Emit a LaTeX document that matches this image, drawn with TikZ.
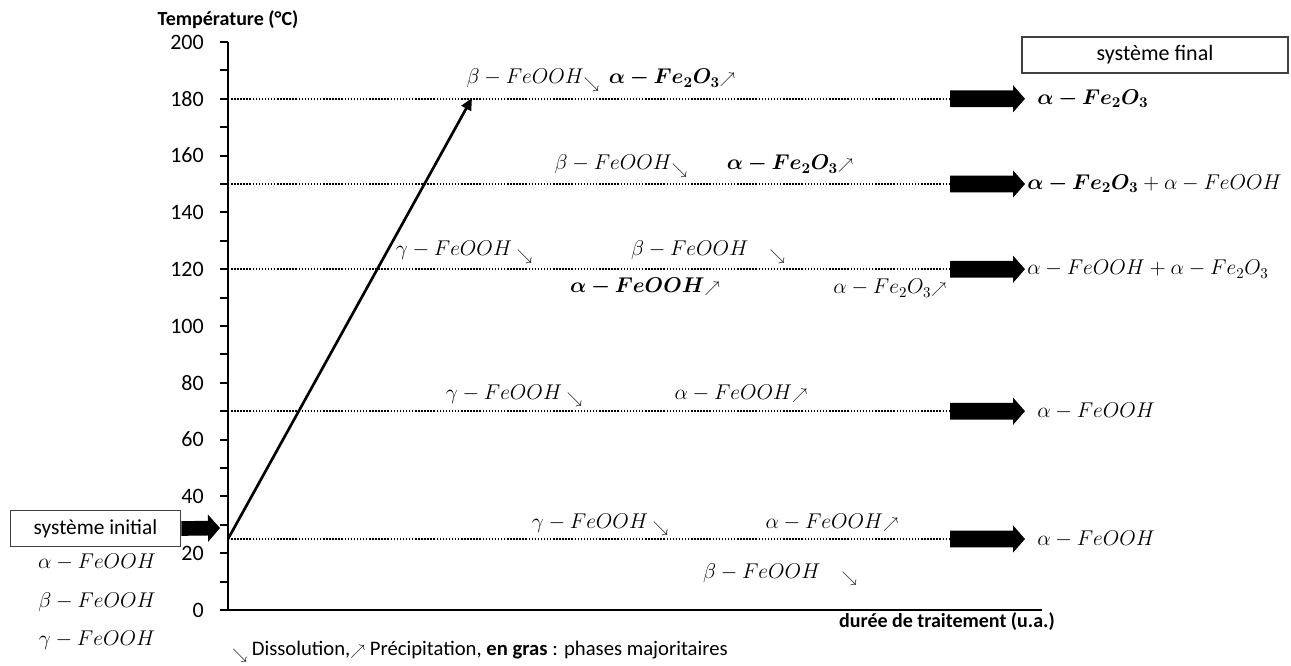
\RequirePackage{fix-cm}
\documentclass[tikz,border=0pt]{standalone}
\usepackage{amsmath,bm}
\usepackage[no-math]{fontspec}
\setmainfont{Carlito}
\usetikzlibrary{arrows.meta,positioning,calc}
\newcommand{\baisse}{\mathord{\raisebox{-0.45ex}{\scalebox{0.72}{$\searrow$}}}}
\newcommand{\hausse}{\mathord{\scalebox{0.72}{$\nearrow$}}}
\tikzset{
  axe/.style={line width=1.8pt},
  graduation/.style={anchor=east, inner sep=0pt, font=\fontsize{16.5}{19}\selectfont},
  titre/.style={inner sep=0pt, font=\bfseries\fontsize{15}{17}\selectfont},
  pointille/.style={line width=1.1pt, dash pattern=on 1.1pt off 1.2pt},
  grosse/.style={line width=12.5pt, -{Triangle[length=9pt,width=20pt]}},
  montee/.style={line width=2pt, -{Triangle[length=9pt,width=8pt]}},
  boite/.style={draw=black!75, line width=0.8pt, minimum width=128pt, minimum height=27.5pt, inner sep=0pt, font=\fontsize{16}{19}\selectfont},
  phase/.style={anchor=base, inner sep=0pt, font=\fontsize{16}{19}\selectfont},
  resultat/.style={anchor=west, inner sep=0pt, font=\fontsize{16}{19}\selectfont},
  legende/.style={anchor=west, inner sep=0pt, font=\fontsize{15.5}{18}\selectfont},
}

\begin{document}
\begin{tikzpicture}[x=0.75pt,y=-0.75pt]
  \useasboundingbox (0,0) rectangle (1291,666);
  % axes
  \coordinate (o) at (228,610);
  \draw[axe] (228,42) -- (o) -- (1042,610);
  \foreach \v in {0,10,...,200}
    \draw[line width=1.5pt] (220,{610-2.84*\v}) -- (228,{610-2.84*\v});
  \foreach \v in {0,20,...,200}
    \node[graduation] (t\v) at (204,{610-2.84*\v}) {\v};
  \node[titre] (ytitre) at (228,20) {Température (°C)};
  \node[titre, anchor=east] (xtitre) at (1055,622) {durée de traitement (u.a.)};

  % paliers de temperature
  \foreach \t/\n in {180/a,150/b,120/c,70/d,25/e} {
    \coordinate (g\n) at (228,{610-2.84*\t});
    \coordinate (f\n) at (950,{610-2.84*\t});
    \draw[pointille] (g\n) -- (f\n);
  }

  % systeme initial
  \node[boite] (init) at (95.5,528.5) {système initial};
  \coordinate (entree) at (220,528);
  \draw[grosse, line width=11pt] (init.east) -- (entree);
  \node[phase] (ia) at (97,568) {$\alpha-FeOOH$};
  \node[phase] (ib) at (97,607) {$\beta-FeOOH$};
  \node[phase] (ic) at (97,645) {$\gamma-FeOOH$};

  % montee en temperature
  \coordinate (haut) at (472,98);
  \draw[montee] (ge) -- (haut);

  % phases sur chaque palier
  \node[phase] (a1) at (533,84) {$\beta-FeOOH\baisse$};
  \node[phase] (a2) at (672,84) {$\bm{\alpha-Fe_2O_3}\hausse$};
  \node[phase] (b1) at (621,170) {$\beta-FeOOH\baisse$};
  \node[phase] (b2) at (790,170) {$\bm{\alpha-Fe_2O_3}\hausse$};
  \node[phase] (c1) at (464,256) {$\gamma-FeOOH\ \baisse$};
  \node[phase] (c2) at (708,256) {$\beta-FeOOH\quad\baisse$};
  \node[phase] (c3) at (645,293) {$\bm{\alpha-FeOOH}\hausse$};
  \node[phase] (c4) at (890,294) {$\alpha-Fe_2O_3\hausse$};
  \node[phase] (d1) at (514,399) {$\gamma-FeOOH\ \baisse$};
  \node[phase] (d2) at (741,399) {$\alpha-FeOOH\hausse$};
  \node[phase] (e1) at (600,528) {$\gamma-FeOOH\ \baisse$};
  \node[phase] (e2) at (832,528) {$\alpha-FeOOH\hausse$};
  \node[phase] (e3) at (780,578) {$\beta-FeOOH\quad\baisse$};

  % systeme final
  \node[boite, minimum width=199.5pt, minimum height=27pt, font=\fontsize{16.5}{19}\selectfont] (final) at (1155,55) {système final};
  \node[resultat] (ra) at (1037,98.8) {$\bm{\alpha-Fe_2O_3}$};
  \node[resultat] (rb) at (1027,184) {$\bm{\alpha-Fe_2O_3}+\alpha-FeOOH$};
  \node[resultat] (rc) at (1027,269.2) {$\alpha-FeOOH+\alpha-Fe_2O_3$};
  \node[resultat] (rd) at (1037,411.2) {$\alpha-FeOOH$};
  \node[resultat] (re) at (1037,539) {$\alpha-FeOOH$};
  \draw[grosse, shorten >=9pt] (fa) -- (ra.west);
  \draw[grosse, shorten >=1.5pt] (fb) -- (rb.west);
  \draw[grosse, shorten >=1.5pt] (fc) -- (rc.west);
  \draw[grosse, shorten >=9pt] (fd) -- (rd.west);
  \draw[grosse, shorten >=9pt] (fe) -- (re.west);

  \node[legende] (leg) at (232,652) {$\baisse$ Dissolution,$\hausse$ Précipitation, \textbf{en gras} : phases majoritaires};
\end{tikzpicture}
\end{document}
